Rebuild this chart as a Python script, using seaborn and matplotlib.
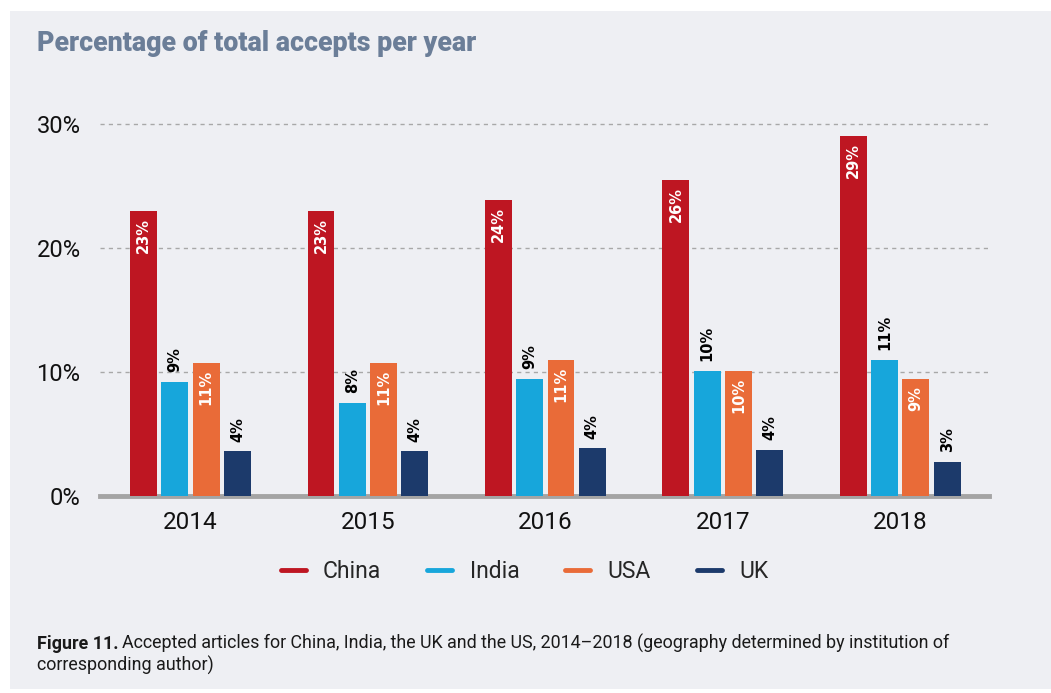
import matplotlib
matplotlib.use("Agg")
import matplotlib.pyplot as plt
from matplotlib.lines import Line2D
from matplotlib.patches import Rectangle
import seaborn as sns
import pandas as pd

# Share of all accepted articles (%) by country of corresponding author
years = ["2014", "2015", "2016", "2017", "2018"]
countries = ["China", "India", "USA", "UK"]
china = [23.0, 23.0, 23.9, 25.5, 29.0]
india = [9.2, 7.5, 9.46, 10.1, 11.0]
usa = [10.75, 10.75, 11.0, 10.1, 9.46]
uk = [3.6, 3.6, 3.85, 3.7, 2.73]
y_ticks = [0, 10, 20, 30]
y_tick_labels = ["0%", "10%", "20%", "30%"]

colors = {"China": "#BE1622", "India": "#17A6DB", "USA": "#E96B38", "UK": "#1C3A6B"}
label_inside = {"China": True, "India": False, "USA": True, "UK": False}
BG = "#EEEFF3"

df = pd.DataFrame({
    "year": years * 4,
    "country": sum([[c] * len(years) for c in countries], []),
    "share": china + india + usa + uk,
})

sns.set_theme(style="white")
plt.rcParams["font.family"] = ["Roboto", "DejaVu Sans"]

fig = plt.figure(figsize=(10.51, 6.93), dpi=100)
fig.patch.set_facecolor("white")
# light panel behind the whole figure content
fig.add_artist(Rectangle((10 / 1051, 4 / 693), 1041 / 1051, 678 / 693,
                         transform=fig.transFigure, facecolor=BG,
                         edgecolor="none", zorder=-10))

ax = fig.add_axes([100 / 1051, 197 / 693, 889 / 1051, 372 / 693])
ax.set_facecolor(BG)

sns.barplot(data=df, x="year", y="share", hue="country", hue_order=countries,
            order=years, palette=colors, saturation=1, width=0.705, gap=0.14,
            legend=False, ax=ax, zorder=3, linewidth=0, edgecolor="none")

ax.set_xlim(-0.51, 4.5)
ax.set_ylim(0, 30)
ax.set_yticks(y_ticks)
ax.set_yticklabels(y_tick_labels)
ax.set_xlabel("")
ax.set_ylabel("")

for y in y_ticks[1:]:
    ax.axhline(y, color="#A8A8A8", lw=1.0, ls=(0, (3, 3)), zorder=1, clip_on=False)

for side in ["top", "right", "left"]:
    ax.spines[side].set_visible(False)
ax.spines["bottom"].set_color("#A4A4A4")
ax.spines["bottom"].set_linewidth(3.5)
ax.spines["bottom"].set_zorder(2)

ax.tick_params(axis="both", length=0, colors="#111111")
ax.tick_params(axis="x", pad=11, labelsize=17.5)
ax.tick_params(axis="y", pad=14, labelsize=17)

# value labels, rotated; white inside the tall bars, black above the others
for country, container in zip(countries, ax.containers):
    for bar in container:
        h = bar.get_height()
        xc = bar.get_x() + bar.get_width() / 2
        if label_inside[country]:
            ax.annotate(f"{h:.0f}%", (xc, h), xytext=(0, -5), textcoords="offset points",
                        rotation=90, ha="center", va="top", color="white",
                        fontsize=10.5, fontweight="bold", family="DejaVu Sans", zorder=5)
        else:
            ax.annotate(f"{h:.0f}%", (xc, h), xytext=(0, 7), textcoords="offset points",
                        rotation=90, ha="center", va="bottom", color="black",
                        fontsize=10.5, fontweight="bold", family="DejaVu Sans", zorder=5)

# legend with short line handles
handles = [Line2D([], [], color=colors[c], lw=3.5) for c in countries]
fig.legend(handles, countries, loc="center", bbox_to_anchor=(0.499, 0.175),
           ncol=4, frameon=False, fontsize=16.5, handlelength=1.1,
           handletextpad=0.75, columnspacing=2.0)

fig.text(37 / 1051, 1 - 51 / 693, "Percentage of total accepts per year",
         fontsize=19.3, fontweight="heavy", color="#6B7E98", ha="left", va="baseline")

renderer = fig.canvas.get_renderer()
cap_y1 = 1 - 649 / 693
cap_y2 = 1 - 671 / 693
cap_size = 12.9
t_bold = fig.text(37 / 1051, cap_y1, "Figure 11.", fontsize=cap_size, fontweight="bold",
                  color="#1A1A1A", ha="left", va="baseline")
bb = t_bold.get_window_extent(renderer)
fig.text(bb.x1 / fig.bbox.width + 3 / 1051, cap_y1,
         "Accepted articles for China, India, the UK and the US, 2014\u20132018 "
         "(geography determined by institution of",
         fontsize=cap_size, color="#1A1A1A", ha="left", va="baseline")
fig.text(37 / 1051, cap_y2, "corresponding author)", fontsize=cap_size,
         color="#1A1A1A", ha="left", va="baseline")

fig.savefig("out.png", dpi=100, facecolor=fig.get_facecolor())
